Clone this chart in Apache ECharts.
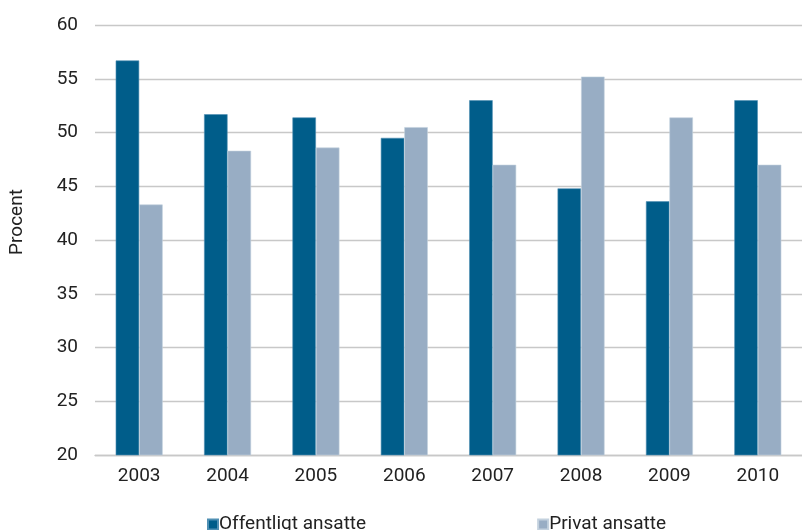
<!DOCTYPE html>
<html>
<head>
<meta charset="utf-8">
<script src="https://cdn.jsdelivr.net/npm/echarts@6/dist/echarts.min.js"></script>
<style>
html,body{margin:0;padding:0;background:#fff;}
#c{width:802px;height:530px;}
</style>
</head>
<body>
<div id="c"></div>
<script>
var years = ['2003','2004','2005','2006','2007','2008','2009','2010'];
var offentligt = [56.7, 51.7, 51.4, 49.5, 53.0, 44.8, 43.6, 53.0];
var privat = [43.3, 48.3, 48.6, 50.5, 47.0, 55.2, 51.4, 47.0];
var seriesNames = ['Offentligt ansatte', 'Privat ansatte'];

var chart = echarts.init(document.getElementById('c'));
var font = 'Roboto, "Noto Sans", sans-serif';
chart.setOption({
  animation: false,
  textStyle: {fontFamily: font},
  grid: {left: 95, right: 0, top: 25, bottom: 75},
  legend: {
    top: 510, left: 202,
    itemWidth: 10, itemHeight: 10, itemGap: 171,
    icon: 'rect',
    textStyle: {fontSize: 19, color: '#222', fontFamily: font, padding: [0,0,0,-4]},
    data: seriesNames
  },
  xAxis: {
    type: 'category', data: years,
    axisLine: {lineStyle: {color: '#c8c8c8', width: 1.3}},
    axisTick: {show: false},
    axisLabel: {fontSize: 19, color: '#222', margin: 12}
  },
  yAxis: {
    type: 'value', min: 20, max: 60, interval: 5,
    name: 'Procent', nameLocation: 'middle', nameGap: 68,
    nameTextStyle: {fontSize: 19, color: '#222', padding: [0,0,0,36]},
    axisLine: {show: false}, axisTick: {show: false},
    axisLabel: {fontSize: 19, color: '#222', margin: 17},
    splitLine: {lineStyle: {color: '#c8c8c8', width: 1.3}}
  },
  series: [
    {name: seriesNames[0], type: 'bar', data: offentligt, barWidth: 23.5, barGap: '0%',
     itemStyle: {color: '#005d8a', borderColor: '#4f8fb3', borderWidth: 0.6}},
    {name: seriesNames[1], type: 'bar', data: privat, barWidth: 23.5, barGap: '0%',
     itemStyle: {color: '#98adc4', borderColor: '#c3d1de', borderWidth: 0.6}}
  ]
});
</script>
</body>
</html>
